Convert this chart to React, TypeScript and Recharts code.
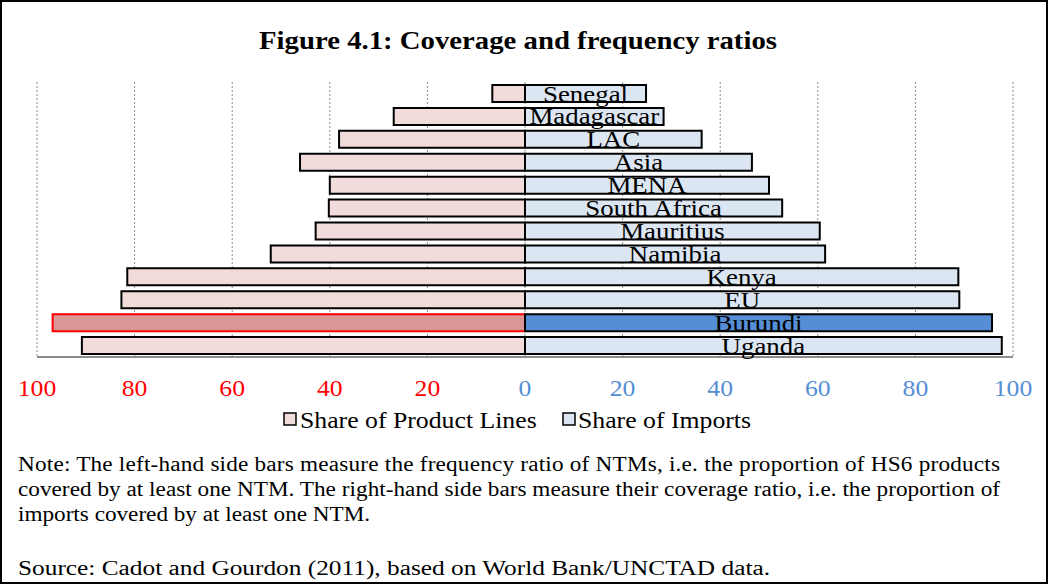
import { BarChart, Bar, XAxis, YAxis, CartesianGrid, Cell, LabelList } from 'recharts';

const categories = [
  'Senegal',
  'Madagascar',
  'LAC',
  'Asia',
  'MENA',
  'South Africa',
  'Mauritius',
  'Namibia',
  'Kenya',
  'EU',
  'Burundi',
  'Uganda',
];
const productLines = [6.7, 26.9, 38.1, 46.1, 40.0, 40.2, 42.9, 52.1, 81.5, 82.7, 96.8, 90.8];
const imports = [24.8, 28.4, 36.2, 46.5, 50.0, 52.7, 60.4, 61.5, 88.8, 89.0, 95.7, 97.7];
const xTicks = [-100, -80, -60, -40, -20, 0, 20, 40, 60, 80, 100];
const highlight = 'Burundi';

const noteLines = [
  'Note: The left-hand side bars measure the frequency ratio of NTMs, i.e. the proportion of HS6 products',
  'covered by at least one NTM. The right-hand side bars measure their coverage ratio, i.e. the proportion of',
  'imports covered by at least one NTM.',
];
// justified lines stretch to the full text width, the last one does not
const noteWidths = [982, 982, 0];
const source = 'Source: Cadot and Gourdon (2011), based on World Bank/UNCTAD data.';

const PINK = '#F2DCDB';
const PINK_HI = '#D99694';
const BLUE = '#DCE6F2';
const BLUE_HI = '#558ED5';
const FONT = '"Liberation Serif", "Times New Roman", serif';
const STRETCH = 1.12;
const NOTE_STRETCH = 1.16;

const chartData = categories.map((name, i) => ({
  name,
  lines: -productLines[i],
  imports: imports[i],
}));

function AxisTick(props: any) {
  const { x, y, payload } = props;
  const v = payload.value as number;
  return (
    <text
      transform={`translate(${x} ${y + 39}) scale(${STRETCH} 1)`}
      textAnchor="middle"
      fontSize={23}
      fontFamily={FONT}
      fill={v < 0 ? '#FF0000' : BLUE_HI}
    >
      {Math.abs(v)}
    </text>
  );
}

function CategoryLabel(props: any) {
  const { x, y, width, height, value } = props;
  const cx = x + width / 2;
  const cy = y + height / 2 + 8;
  return (
    <text
      transform={`translate(${cx} ${cy}) scale(${STRETCH} 1)`}
      textAnchor="middle"
      fontSize={24}
      fontFamily={FONT}
      fill="#000"
    >
      {value}
    </text>
  );
}

export default function App() {
  return (
    <div style={{ position: 'absolute', left: 0, top: 0, width: 1049, height: 585, background: '#fff' }}>
      <div style={{ position: 'absolute', left: 0, top: 0 }}>
        <BarChart
          width={1049}
          height={400}
          data={chartData}
          layout="vertical"
          stackOffset="sign"
          margin={{ top: 82, right: 36, left: 37, bottom: 3 }}
        >
          <CartesianGrid horizontal={false} stroke="#8f8f8f" strokeDasharray="2 2" />
          <XAxis
            type="number"
            domain={[-100, 100]}
            ticks={xTicks}
            height={40}
            tickLine={false}
            tickSize={0}
            tickMargin={0}
            axisLine={{ stroke: '#8c8c8c', strokeWidth: 2 }}
            tick={<AxisTick />}
            interval={0}
          />
          <YAxis type="category" dataKey="name" hide />
          <Bar dataKey="lines" stackId="a" barSize={17} stroke="#000" strokeWidth={2} isAnimationActive={false}>
            {chartData.map((d) => (
              <Cell
                key={d.name}
                fill={d.name === highlight ? PINK_HI : PINK}
                stroke={d.name === highlight ? '#FF0000' : '#000'}
              />
            ))}
          </Bar>
          <Bar dataKey="imports" stackId="a" barSize={17} stroke="#000" strokeWidth={2} isAnimationActive={false}>
            {chartData.map((d) => (
              <Cell key={d.name} fill={d.name === highlight ? BLUE_HI : BLUE} />
            ))}
            <LabelList dataKey="name" content={<CategoryLabel />} />
          </Bar>
        </BarChart>
      </div>
      <svg
        width={1049}
        height={585}
        style={{ position: 'absolute', left: 0, top: 0, pointerEvents: 'none' }}
        fontFamily={FONT}
      >
        <rect x={1} y={1} width={1046} height={582} fill="none" stroke="#000" strokeWidth={2} />
        <text transform={`translate(518 49) scale(1.15 1)`} textAnchor="middle" fontSize={25} fontWeight="bold">
          Figure 4.1: Coverage and frequency ratios
        </text>
        <rect x={284} y={413} width={12} height={12} fill={PINK} stroke="#000" strokeWidth={1.5} />
        <text transform={`translate(300 428) scale(${STRETCH} 1)`} fontSize={23}>
          Share of Product Lines
        </text>
        <rect x={563} y={413} width={12} height={12} fill={BLUE} stroke="#000" strokeWidth={1.5} />
        <text transform={`translate(578 428) scale(${STRETCH} 1)`} fontSize={23}>
          Share of Imports
        </text>
        {noteLines.map((line, i) => (
          <text
            key={i}
            transform={`translate(18 ${471 + i * 25}) scale(${NOTE_STRETCH} 1)`}
            fontSize={20}
            textLength={noteWidths[i] ? noteWidths[i] / NOTE_STRETCH : undefined}
            lengthAdjust="spacing"
          >
            {line}
          </text>
        ))}
        <text
          transform={`translate(18 575) scale(${NOTE_STRETCH} 1)`}
          fontSize={20.5}
          textLength={752 / NOTE_STRETCH}
          lengthAdjust="spacingAndGlyphs"
        >
          {source}
        </text>
      </svg>
    </div>
  );
}
